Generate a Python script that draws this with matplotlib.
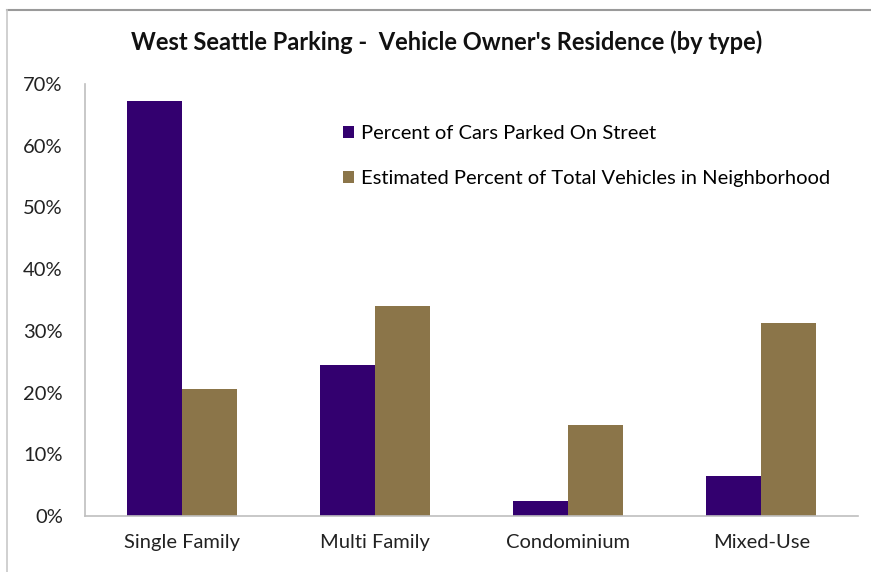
import matplotlib.pyplot as plt
import numpy as np
from matplotlib.lines import Line2D
from matplotlib.ticker import PercentFormatter

plt.rcParams['font.family'] = ['Lato', 'DejaVu Sans']

categories = ['Single Family', 'Multi Family', 'Condominium', 'Mixed-Use']
on_street = [67.3, 24.5, 2.4, 6.5]     # percent of cars parked on street
total_est = [20.6, 34.0, 14.7, 31.3]   # estimated percent of total vehicles
series_names = ['Percent of Cars Parked On Street',
                'Estimated Percent of Total Vehicles in Neighborhood']

purple = '#33006F'
gold = '#8B7549'

fig = plt.figure(figsize=(8.71, 5.72), dpi=100)
ax = fig.add_axes([85/871, 56/572, 773/871, 432/572])

x = np.arange(len(categories))
w = 0.285
ax.bar(x - w/2, on_street, w, color=purple, label=series_names[0])
ax.bar(x + w/2, total_est, w, color=gold, label=series_names[1])

ax.set_xlim(-0.5, len(categories) - 0.5)
ax.set_ylim(0, 70)
ax.set_yticks(np.arange(0, 71, 10))
ax.yaxis.set_major_formatter(PercentFormatter(decimals=0))
ax.set_xticks(x)
ax.set_xticklabels(categories)
ax.tick_params(axis='both', length=0, labelsize=14.5, colors='#222222')
ax.tick_params(axis='y', pad=16)
ax.tick_params(axis='x', pad=13)

for s in ['top', 'right']:
    ax.spines[s].set_visible(False)
for s in ['left', 'bottom']:
    ax.spines[s].set_color('#BFBFBF')
    ax.spines[s].set_linewidth(1.2)

ax.legend(loc='upper left', bbox_to_anchor=(0.31, 0.947), frameon=False,
          fontsize=14.5, handlelength=0.55, handleheight=0.55, handletextpad=0.35,
          labelspacing=1.4)

fig.text(0.513, 1 - 42/572, "West Seattle Parking -  Vehicle Owner's Residence (by type)",
         ha='center', va='center', fontsize=17, fontweight='bold', color='#111111')

# thin frame lines along the top and left edges
fig.add_artist(Line2D([7/871, 1], [1 - 10/572, 1 - 10/572], color='#9A9A9A', lw=1.5))
fig.add_artist(Line2D([7/871, 7/871], [0, 1 - 10/572], color='#C8C8C8', lw=1.2))

fig.savefig('out.png', dpi=100)
